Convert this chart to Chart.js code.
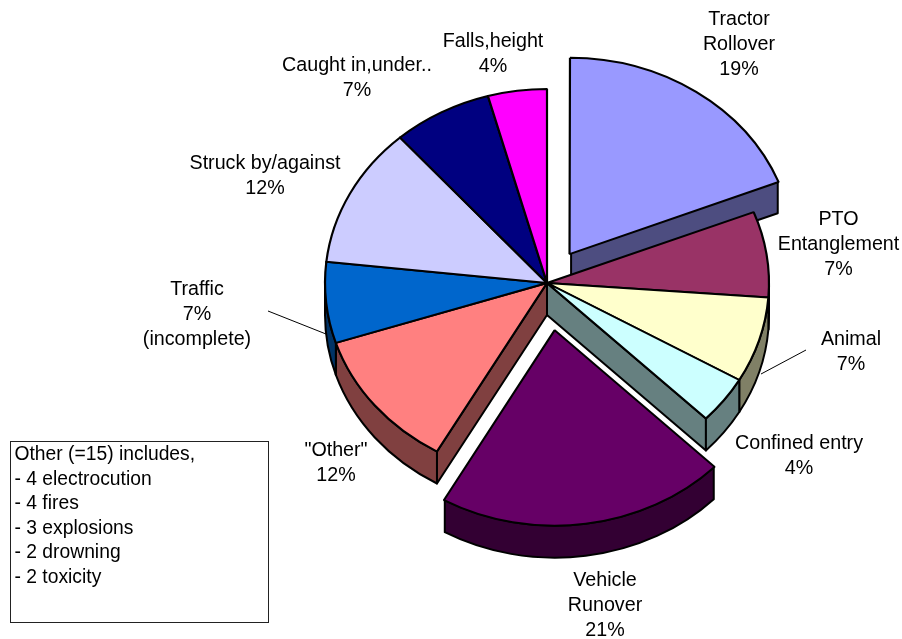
<!DOCTYPE html>
<html>
<head>
<meta charset="utf-8">
<style>html,body{margin:0;padding:0;background:#fff}canvas{display:block}</style>
<script src="https://cdn.jsdelivr.net/npm/chart.js@4"></script>
</head>
<body>
<canvas id="c" width="902" height="639"></canvas>
<script>
const categories = ["Tractor Rollover","PTO Entanglement","Animal","Confined entry","Vehicle Runover","\"Other\"","Traffic","Struck by/against","Caught in,under..","Falls,height"];
const values = [24,9,9,5,26.4,14.8,8.5,14.8,9.1,5.4];
const sliceColors = ["#9999FF","#993366","#FFFFCC","#CCFFFF","#660066","#FF8080","#0066CC","#CCCCFF","#000080","#FF00FF"];
const explode = [160,0,0,0,218,0,0,0,0,0];
const labelLines = [["Tractor","Rollover","19%"],["PTO","Entanglement","7%"],["Animal","7%"],["Confined entry","4%"],["Vehicle","Runover","21%"],["\"Other\"","12%"],["Traffic","7%","(incomplete)"],["Struck by/against","12%"],["Caught in,under..","7%"],["Falls,height","4%"]];
const noteLines = ["Other (=15) includes,","- 4 electrocution","- 4 fires","- 3 explosions","- 2 drowning","- 2 toxicity"];

const labelX = [739,838.5,851,799,605,336,197,265,357,493];
const labelY = [20,220,340,444,581,451,290,164,66,42];
const FONT = '19.7px "Liberation Sans", Arial, sans-serif';
const NOTE_FONT = '19.3px "Liberation Sans", Arial, sans-serif';
const LINE_H = 24.6;
const TILT = 194/222;
const DEPTH = 32;
const leaders = [[268,311,326,334],[806,350,761,374]];

function shade(hex){
  const n = parseInt(hex.slice(1),16);
  const f = v => Math.round(v/2);
  return `rgb(${f(n>>16&255)},${f(n>>8&255)},${f(n&255)})`;
}
function geom(arc, offset){
  const p = arc.getProps(['x','y','startAngle','endAngle','outerRadius']);
  const circ = p.endAngle-p.startAngle, mid=(p.startAngle+p.endAngle)/2;
  const o = offset/4, tot = o*(2-Math.sin(Math.min(Math.PI,circ)));
  return {cx:p.x+Math.cos(mid)*tot, cy:p.y+Math.sin(mid)*tot*TILT, r:p.outerRadius, ry:p.outerRadius*TILT, a:p.startAngle, b:p.endAngle};
}
const pie3d = {
  id:'pie3d',
  beforeDatasetsDraw(chart){
    const ctx = chart.ctx, arcs = chart.getDatasetMeta(0).data;
    ctx.save();
    ctx.lineWidth = 2; ctx.strokeStyle = '#000'; ctx.lineJoin='round';
    const gs = arcs.map((a,i)=>geom(a,explode[i]));
    const face = (g,ang,col)=>{
      const x=g.cx+Math.cos(ang)*g.r, y=g.cy+Math.sin(ang)*g.ry;
      ctx.beginPath(); ctx.moveTo(g.cx,g.cy); ctx.lineTo(x,y); ctx.lineTo(x,y+DEPTH); ctx.lineTo(g.cx,g.cy+DEPTH); ctx.closePath();
      ctx.fillStyle=col; ctx.fill(); ctx.stroke();
    };
    gs.forEach((g,i)=>{ if (g.b<Math.PI/2) face(g,g.b,shade(sliceColors[i])); });
    for (let i=gs.length-1;i>=0;i--){ if (gs[i].a>Math.PI/2) face(gs[i],gs[i].a,shade(sliceColors[i])); }
    gs.forEach((g,i)=>{
      const a1=Math.max(g.a,0), a2=Math.min(g.b,Math.PI);
      if (a2<=a1) return;
      ctx.beginPath();
      ctx.ellipse(g.cx,g.cy,g.r,g.ry,0,a1,a2);
      ctx.ellipse(g.cx,g.cy+DEPTH,g.r,g.ry,0,a2,a1,true);
      ctx.closePath();
      ctx.fillStyle=shade(sliceColors[i]); ctx.fill(); ctx.stroke();
    });
    ctx.restore();
    const cy = arcs[0].y;
    ctx.save();
    ctx.translate(0,cy); ctx.scale(1,TILT); ctx.translate(0,-cy);
  },
  afterDatasetsDraw(chart){
    const ctx = chart.ctx;
    ctx.restore();
    ctx.save();
    ctx.strokeStyle='#000'; ctx.lineWidth=1;
    leaders.forEach(l=>{ctx.beginPath();ctx.moveTo(l[0],l[1]);ctx.lineTo(l[2],l[3]);ctx.stroke();});
    ctx.fillStyle='#000'; ctx.font=FONT; ctx.textBaseline='middle'; ctx.textAlign='center';
    labelLines.forEach((lines,i)=>lines.forEach((t,j)=>ctx.fillText(t,labelX[i],labelY[i]+j*LINE_H)));
    ctx.lineWidth=1; ctx.strokeStyle='#222';
    ctx.strokeRect(10.5,441.5,258,181);
    ctx.textAlign='left'; ctx.font=NOTE_FONT;
    noteLines.forEach((t,j)=>ctx.fillText(t,14.5,455+j*24.5));
    ctx.restore();
  }
};
new Chart(document.getElementById('c'),{
  type:'pie',
  data:{labels:categories,datasets:[{data:values,backgroundColor:sliceColors,borderColor:'#000',borderWidth:2.2,offset:explode,clip:false}]},
  options:{
    responsive:false,animation:false,radius:222,
    layout:{padding:{left:192,bottom:73}},
    events:[],
    plugins:{legend:{display:false},tooltip:{enabled:false},title:{display:false}}
  },
  plugins:[pie3d]
});
</script>
</body>
</html>
